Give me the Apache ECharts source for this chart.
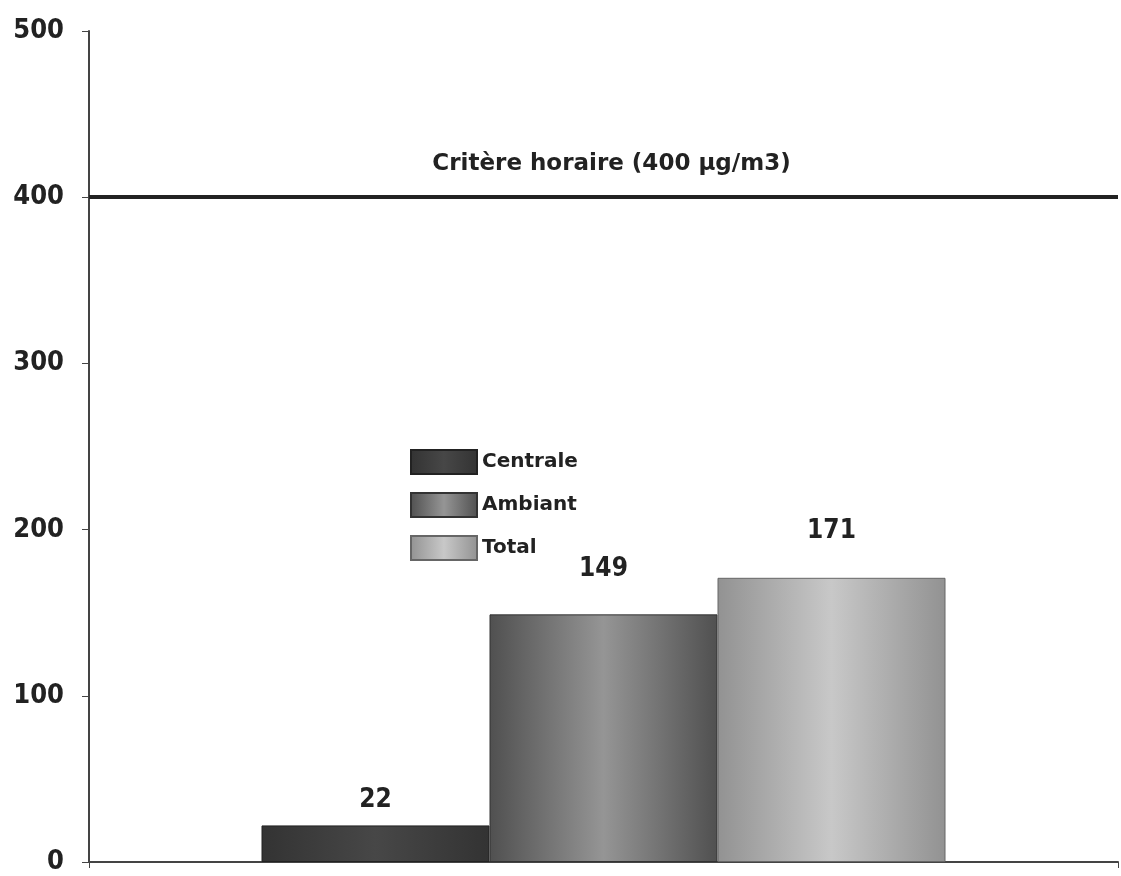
<!DOCTYPE html>
<html>
<head>
    <meta charset="utf-8">
    <title>Critère horaire</title>
    <script src="https://cdn.jsdelivr.net/npm/echarts@6/dist/echarts.min.js"></script>
</head>
<body style="margin:0;background:#fff;">
    <div id="main" style="width: 1121px;height:876px;"></div>
    <script type="text/javascript">
        // données
        var categories = [''];
        var seriesNames = ['Centrale', 'Ambiant', 'Total'];
        var centraleData = [22];
        var ambiantData = [149];
        var totalData = [171];
        var critere = 400;
        var critereLabel = 'Critère horaire (400 µg/m3)';
        var yTicks = [0, 100, 200, 300, 400, 500];

        var numFont = '"Liberation Sans Narrow", "DejaVu Sans Condensed", sans-serif';
        var textFont = '"DejaVu Sans", Verdana, sans-serif';

        function grad(edge, mid) {
            return new echarts.graphic.LinearGradient(0, 0, 1, 0, [
                { offset: 0, color: edge },
                { offset: 0.5, color: mid },
                { offset: 1, color: edge }
            ]);
        }

        function barLabel(dist) {
            return {
                show: true,
                position: 'top',
                distance: dist,
                color: '#222',
                fontFamily: numFont,
                fontWeight: 'bold',
                fontSize: 26
            };
        }

        var chart = echarts.init(document.getElementById('main'));
        var option = {
            backgroundColor: '#fff',
            animation: false,
            grid: { left: 89, right: 3, top: 31, bottom: 14, containLabel: false },
            legend: {
                orient: 'vertical',
                left: 405,
                top: 444,
                itemWidth: 66,
                itemHeight: 24,
                itemGap: 17,
                icon: 'rect',
                data: seriesNames,
                textStyle: { fontFamily: textFont, fontWeight: 'bold', fontSize: 20, color: '#222' }
            },
            xAxis: {
                type: 'category',
                data: categories,
                axisLine: { lineStyle: { color: '#444', width: 2 } },
                axisTick: { show: true, length: 6, lineStyle: { color: '#444' } },
                axisLabel: { show: false }
            },
            yAxis: {
                type: 'value',
                min: yTicks[0],
                max: yTicks[yTicks.length - 1],
                interval: 100,
                axisLine: { show: true, lineStyle: { color: '#444', width: 2 } },
                axisTick: { show: true, length: 7, lineStyle: { color: '#444' } },
                splitLine: { show: false },
                axisLabel: {
                    margin: 25,
                    color: '#222',
                    fontFamily: numFont,
                    fontWeight: 'bold',
                    fontSize: 27
                }
            },
            series: [
                {
                    name: seriesNames[0],
                    type: 'bar',
                    barWidth: 228,
                    barGap: '0%',
                    data: centraleData,
                    itemStyle: { color: grad('#333', '#474747'), borderColor: '#222', borderWidth: 1 },
                    label: barLabel(12),
                    markLine: {
                        silent: true,
                        symbol: 'none',
                        lineStyle: { color: '#222', width: 4, type: 'solid' },
                        label: {
                            show: true,
                            position: 'middle',
                            distance: 22,
                            offset: [8, 0],
                            formatter: critereLabel,
                            color: '#222',
                            fontFamily: textFont,
                            fontWeight: 'bold',
                            fontSize: 23
                        },
                        data: [{ yAxis: critere }]
                    }
                },
                {
                    name: seriesNames[1],
                    type: 'bar',
                    barWidth: 228,
                    barGap: '0%',
                    data: ambiantData,
                    itemStyle: { color: grad('#505050', '#959595'), borderColor: '#333', borderWidth: 1 },
                    label: barLabel(32)
                },
                {
                    name: seriesNames[2],
                    type: 'bar',
                    barWidth: 228,
                    barGap: '0%',
                    data: totalData,
                    itemStyle: { color: grad('#929292', '#c8c8c8'), borderColor: '#666', borderWidth: 1 },
                    label: barLabel(34)
                }
            ]
        };
        chart.setOption(option);
    </script>
</body>
</html>
